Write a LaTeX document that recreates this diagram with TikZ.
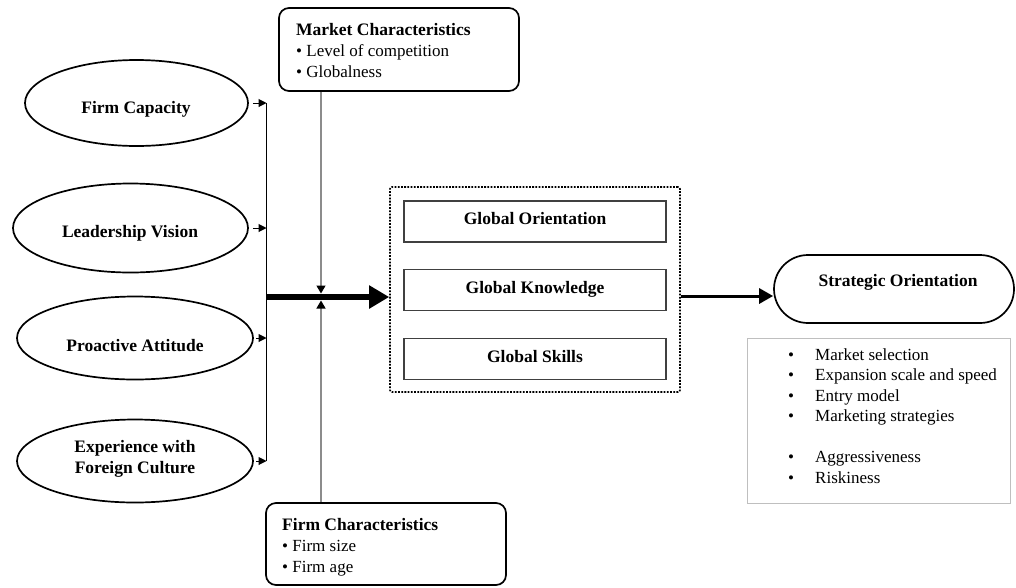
\documentclass[tikz,border=0pt]{standalone}
\usepackage{fontspec}
\setmainfont{Liberation Serif}
\usetikzlibrary{shapes.geometric,arrows.meta}
\begin{document}
\begin{tikzpicture}[x=1pt,y=-1pt,
  every node/.style={font=\fontsize{17}{21}\selectfont, inner sep=0pt},
  ell/.style={ellipse, draw, line width=1.7pt},
  bt/.style={font=\fontsize{17.5}{21}\selectfont\bfseries, align=center},
  rbox/.style={draw, line width=1.7pt, rounded corners=10pt},
  ibox/.style={draw=black!75, line width=1.2pt, minimum width=262pt, minimum height=41pt,
    font=\fontsize{17.5}{21}\selectfont\bfseries, text height=12pt, text depth=6pt},
  sarr/.style={line width=1pt, -{Triangle[length=8pt,width=8pt]}},
  garr/.style={draw=black!45, line width=1.3pt, -{Triangle[length=8pt,width=9pt,color=black]}}
]
\path[use as bounding box] (0,0) rectangle (1016,587);

% left ellipses
\node[ell, minimum width=223pt, minimum height=86pt] (e1) at (136.5,103) {};
\node[bt] (t1) at (136,109) {Firm Capacity};
\node[ell, minimum width=235pt, minimum height=89pt] (e2) at (130.5,228) {};
\node[bt] (t2) at (130,233) {Leadership Vision};
\node[ell, minimum width=236pt, minimum height=83pt] (e3) at (135,338) {};
\node[bt] (t3) at (135,346) {Proactive Attitude};
\node[ell, minimum width=236pt, minimum height=83pt] (e4) at (135,461) {};
\node[bt] (t4) at (135,459) {Experience with\\Foreign Culture};

% collecting line
\coordinate (v1) at (266.5,103);
\coordinate (v2) at (266.5,228);
\coordinate (v3) at (266.5,338);
\coordinate (v4) at (266.5,461);
\coordinate (vm) at (266.5,297);
\draw[line width=1.2pt] (v1) -- (v4);
\draw[sarr] ([xshift=4pt]e1.east) -- (v1);
\draw[sarr] ([xshift=4pt]e2.east) -- (v2);
\draw[sarr] ([xshift=2pt]e3.east) -- (v3);
\draw[sarr] ([xshift=2pt]e4.east) -- (v4);

% dotted box with inner boxes
\node[draw, line width=1.6pt, dash pattern=on 1.8pt off 1.4pt, rounded corners=2pt,
      minimum width=290pt, minimum height=205pt] (db) at (535,289.5) {};
\node[ibox] (go) at (535,221.5) {Global Orientation};
\node[ibox] (gk) at (535,290) {Global Knowledge};
\node[ibox] (gs) at (535,359) {Global Skills};

% thick arrow
\draw[line width=6pt, -{Triangle[length=20pt,width=22pt]}] (vm) -- (vm -| db.west);

% market characteristics
\node[rbox, minimum width=240pt, minimum height=83pt] (mc) at (399,49.5) {};
\node[anchor=north west, align=left] (mct) at (296,23)
  {\textbf{\fontsize{17.5}{21}\selectfont Market Characteristics}\\• Level of competition\\• Globalness};

% firm characteristics
\node[rbox, minimum width=240pt, minimum height=82pt] (fc) at (386,544) {};
\node[anchor=north west, align=left] (fct) at (282,518.5)
  {\textbf{\fontsize{17.5}{21}\selectfont Firm Characteristics}\\• Firm size\\• Firm age};

% moderating lines
\coordinate (gu) at (321,293.5);
\coordinate (gd) at (321,300.5);
\draw[garr] (mc.south -| gu) -- (gu);
\draw[garr] (fc.north -| gd) -- (gd);

% strategic orientation
\node[draw, line width=1.7pt, rounded corners=34pt, minimum width=240pt, minimum height=68pt] (so) at (894,289) {};
\node[bt] (sot) at (898,282) {Strategic Orientation};
\coordinate (ra) at (720,296);
\draw[line width=3pt, -{Triangle[length=14pt,width=15pt]}] (ra -| db.east) -- (ra -| so.west);

% list box
\node[draw=black!25, line width=0.8pt, minimum width=263pt, minimum height=165pt] (sb) at (878.5,420.5) {};
\node[anchor=north west, align=left, font=\fontsize{17}{20.5}\selectfont] (sl) at (788,348)
  {\makebox[27pt][l]{•}Market selection\\
   \makebox[27pt][l]{•}Expansion scale and speed\\
   \makebox[27pt][l]{•}Entry model\\
   \makebox[27pt][l]{•}Marketing strategies\\[20.5pt]
   \makebox[27pt][l]{•}Aggressiveness\\
   \makebox[27pt][l]{•}Riskiness};
\end{tikzpicture}
\end{document}
